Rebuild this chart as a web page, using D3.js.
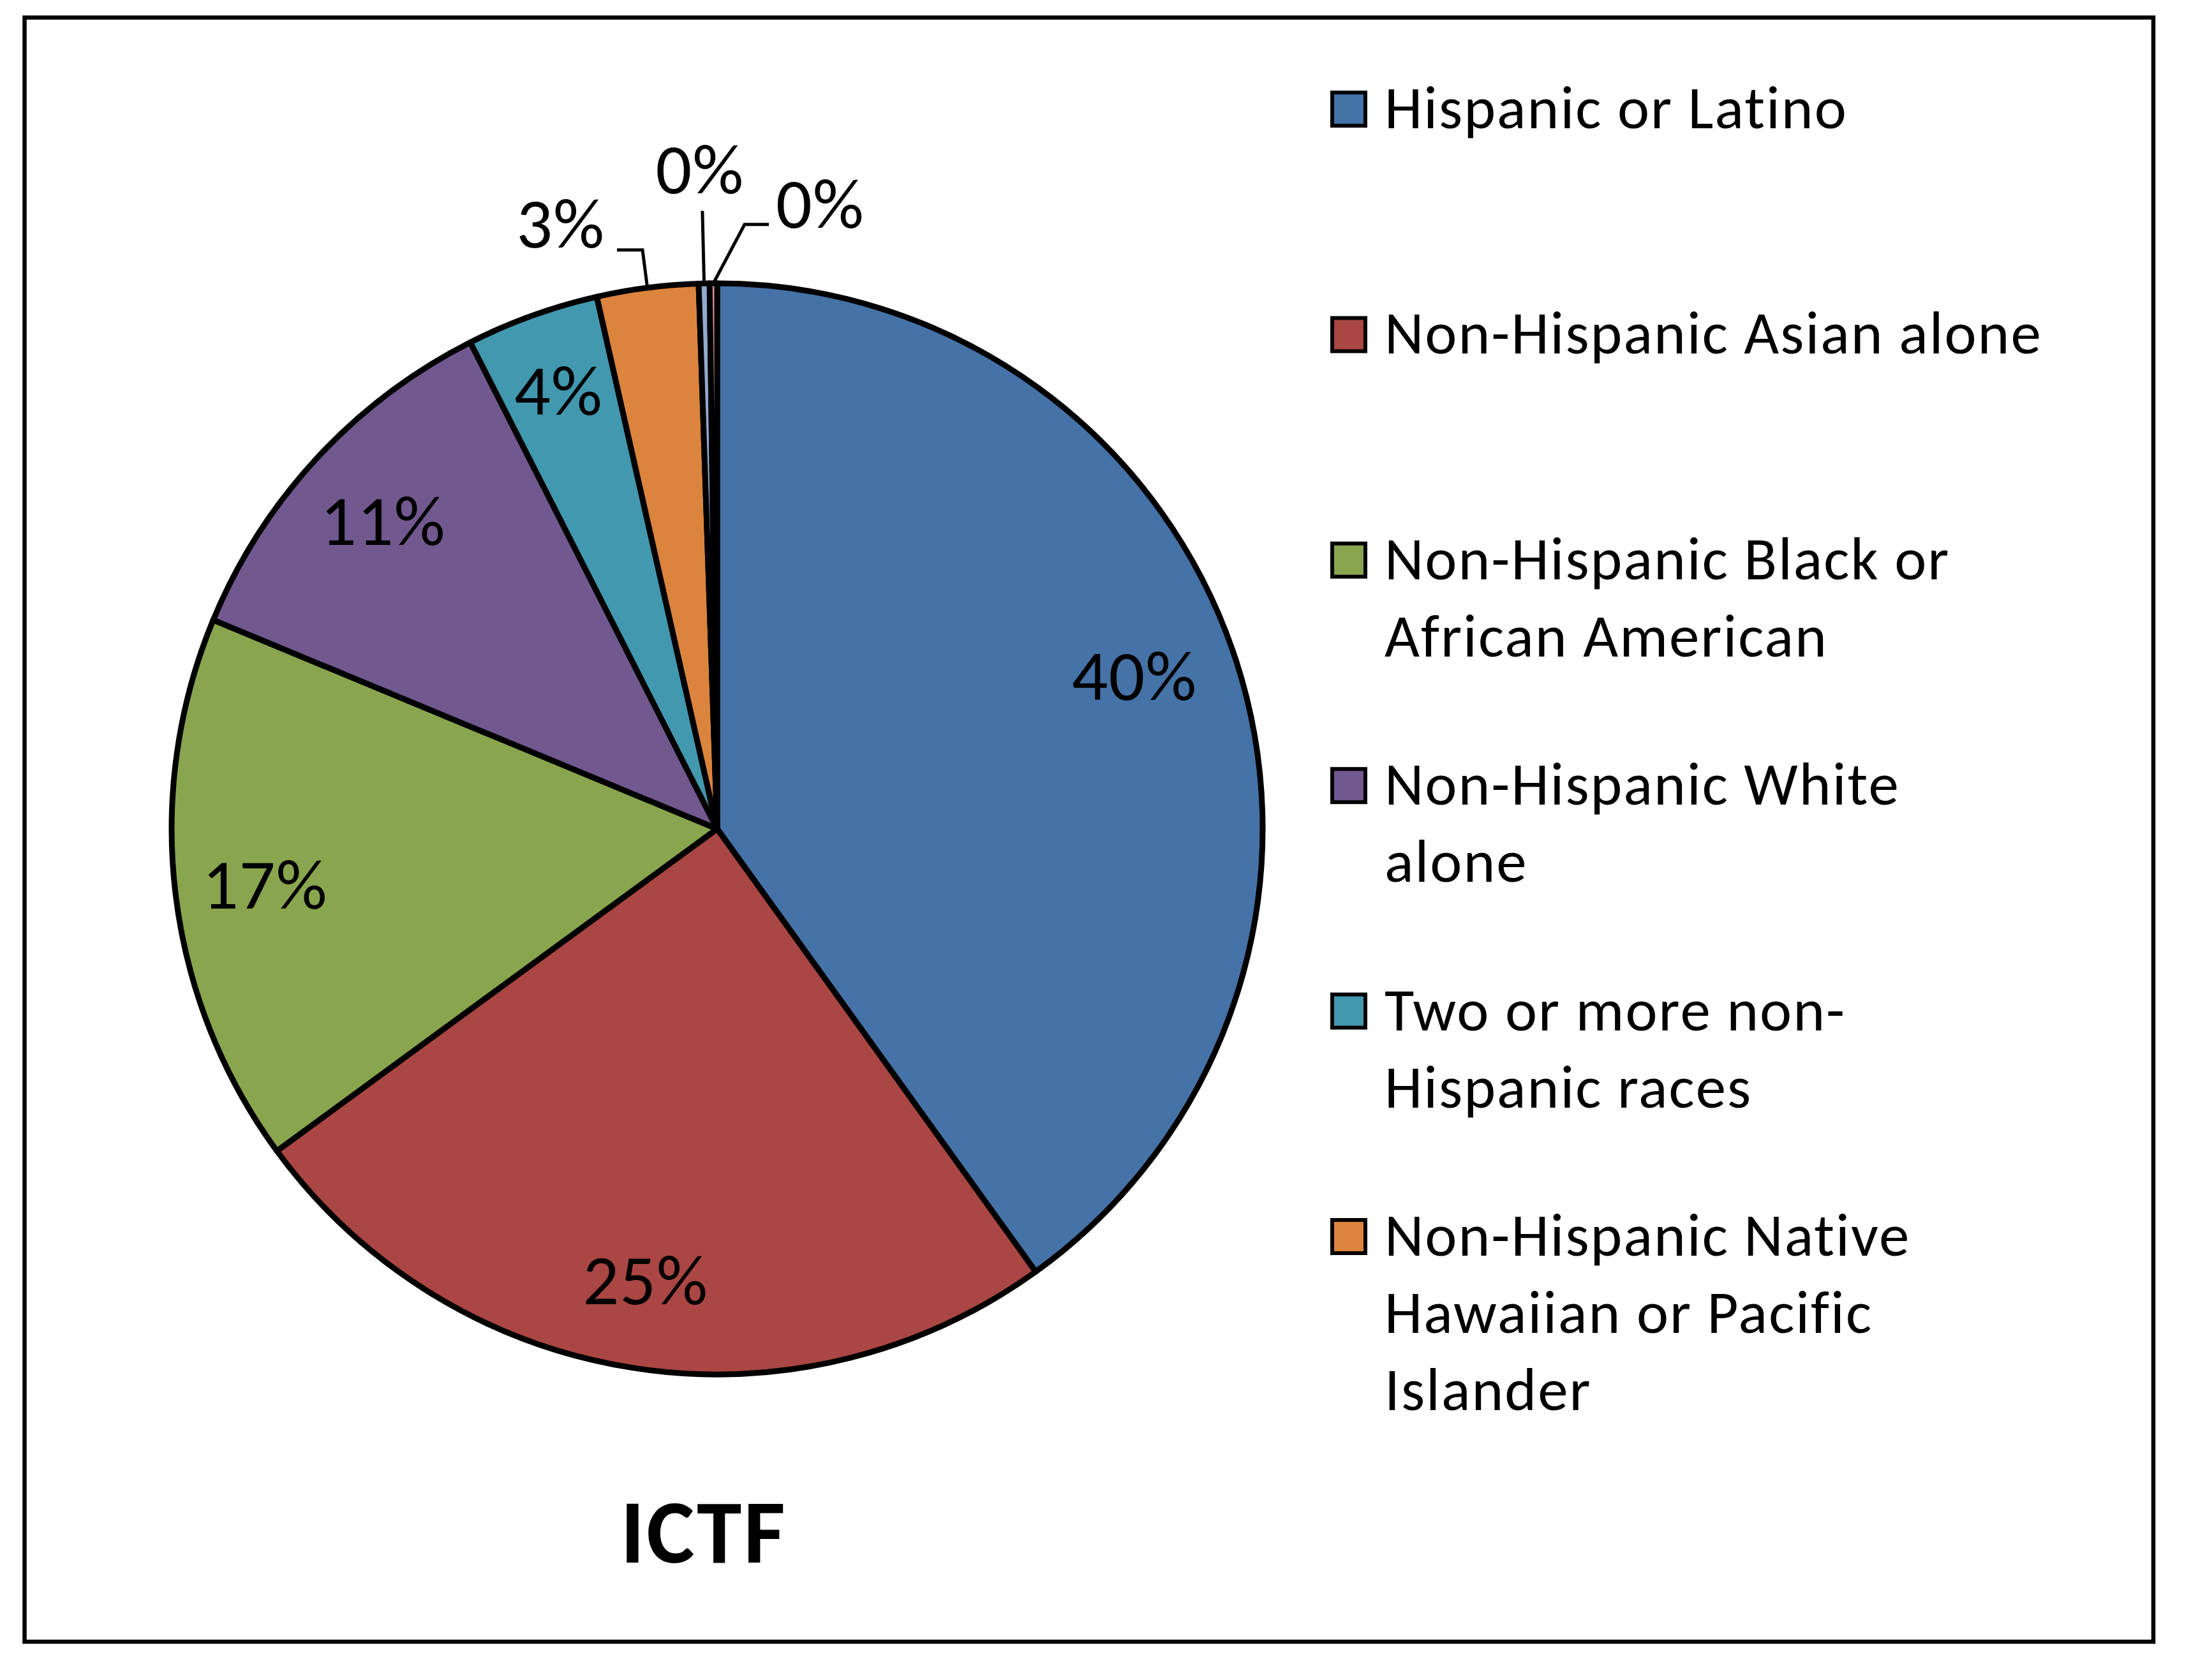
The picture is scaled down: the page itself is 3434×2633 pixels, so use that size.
<!DOCTYPE html>
<html>
<head>
<meta charset="utf-8">
<script src="https://cdn.jsdelivr.net/npm/d3@7"></script>
<style>
  html, body { margin: 0; padding: 0; background: #fff; }
  svg { display: block; }
  text { font-family: Carlito, Calibri, Lato, sans-serif; fill: #000; }
</style>
</head>
<body>
<div id="chart"></div>
<script>
// Ethnic makeup, ICTF (in percent)
const categories = [
  'Hispanic or Latino',
  'Non-Hispanic Asian alone',
  'Non-Hispanic Black or African American',
  'Non-Hispanic White alone',
  'Two or more non-Hispanic races',
  'Non-Hispanic Native Hawaiian or Pacific Islander',
  'Non-Hispanic American Indian and Alaska Native alone',
  'Non-Hispanic some other race alone'
];
const values = [40.06, 24.86, 16.3, 11.27, 3.93, 3.0, 0.32, 0.22];
const pctLabels = ['40%', '25%', '17%', '11%', '4%', '3%', '0%', '0%'];
const colors = ['#4572A7', '#AA4643', '#89A54E', '#71588F', '#4198AF', '#DB843D', '#93A9CF', '#D19392'];

// legend shows the first six entries, wrapped as in the original
const legendLines = [
  ['Hispanic or Latino'],
  ['Non-Hispanic Asian alone'],
  ['Non-Hispanic Black or', 'African American'],
  ['Non-Hispanic White', 'alone'],
  ['Two or more non-', 'Hispanic races'],
  ['Non-Hispanic Native', 'Hawaiian or Pacific', 'Islander']
];
const chartTitle = 'ICTF';

const W = 3434, H = 2633;
const cx = 1124, cy = 1299, R = 855;

const svg = d3.select('#chart')
  .append('svg')
  .attr('width', W)
  .attr('height', H);

svg.append('rect')
  .attr('width', W).attr('height', H)
  .attr('fill', '#fff');

// outer frame
svg.append('rect')
  .attr('x', 38.5).attr('y', 27.5)
  .attr('width', 3375 - 38.5).attr('height', 2573 - 27.5)
  .attr('fill', 'none')
  .attr('stroke', '#000')
  .attr('stroke-width', 6.5);

const data = categories.map((c, i) => ({ name: c, value: values[i], label: pctLabels[i], color: colors[i], idx: i }));

const pie = d3.pie().sort(null).value(d => d.value);
const arcs = pie(data);

const arc = d3.arc().innerRadius(0).outerRadius(R);

const g = svg.append('g').attr('transform', `translate(${cx},${cy})`);

g.selectAll('path.slice')
  .data(arcs)
  .join('path')
  .attr('class', 'slice')
  .attr('d', arc)
  .attr('fill', d => d.data.color)
  .attr('stroke', '#000')
  .attr('stroke-width', 9)
  .attr('stroke-linejoin', 'round');

const pctSize = 112;
const polar = (ang, rad) => [rad * Math.sin(ang), -rad * Math.cos(ang)];
const mid = d => (d.startAngle + d.endAngle) / 2;
const deg = Math.PI / 180;

// Excel "best fit" nudges a couple of the inside labels
const insideTweak = { 0: { r: 0.816, da: -2.5 }, 4: { r: 0.857, da: 0 } };

g.selectAll('text.inside')
  .data(arcs.filter(d => d.data.idx < 5))
  .join('text')
  .attr('class', 'inside')
  .each(function(d) {
    const tw = insideTweak[d.data.idx] || { r: 0.835, da: 0 };
    const p = polar(mid(d) + tw.da * deg, R * tw.r);
    d3.select(this).attr('x', p[0]).attr('y', p[1]);
  })
  .attr('dy', '0.36em')
  .attr('text-anchor', 'middle')
  .style('font-size', pctSize + 'px')
  .style('letter-spacing', '1px')
  .text(d => d.data.label);

// outside labels with leader lines (small slices at the top)
const leaderSpec = {
  5: { elbowAng: d => mid(d), elbowR: 1.07, run: -40, anchor: 'end', tx: -19, ty: -4 },
  6: { elbowAng: d => mid(d), elbowR: 1.133, run: 0, anchor: 'middle', tx: -4, ty: -28 },
  7: { elbowAng: d => 2.6 * deg, elbowR: 1.109, run: 38, anchor: 'start', tx: 11, ty: 5 }
};

arcs.filter(d => leaderSpec[d.data.idx]).forEach(d => {
  const s = leaderSpec[d.data.idx];
  const p0 = polar(mid(d), R);
  const p1 = polar(s.elbowAng(d), R * s.elbowR);
  const p2 = [p1[0] + s.run, p1[1]];
  g.append('path')
    .attr('d', d3.line()([p0, p1, p2]))
    .attr('fill', 'none')
    .attr('stroke', '#000')
    .attr('stroke-width', 5);
  g.append('text')
    .attr('x', p2[0] + s.tx)
    .attr('y', p2[1] + s.ty)
    .attr('text-anchor', s.anchor)
    .style('font-size', pctSize + 'px')
    .style('letter-spacing', '1px')
    .text(d.data.label);
});

// title
svg.append('text')
  .attr('x', 1103)
  .attr('y', 2449)
  .attr('text-anchor', 'middle')
  .style('font-size', '142px')
  .style('font-weight', 'bold')
  .style('letter-spacing', '3px')
  .text(chartTitle);

// legend
const legendX = 2088, textX = 2170, firstBase = 201, itemGap = 353.4, lineGap = 121;
const legend = svg.append('g').attr('class', 'legend');

legendLines.forEach((lines, i) => {
  const base = firstBase + i * itemGap;
  legend.append('rect')
    .attr('x', legendX).attr('y', base - 56)
    .attr('width', 52).attr('height', 52)
    .attr('fill', colors[i])
    .attr('stroke', '#000')
    .attr('stroke-width', 6);
  const t = legend.append('text')
    .attr('x', textX)
    .attr('y', base)
    .style('font-size', '95px')
    .style('letter-spacing', '2px');
  lines.forEach((ln, j) => {
    t.append('tspan')
      .attr('x', textX)
      .attr('y', base + j * lineGap)
      .text(ln);
  });
});
</script>
</body>
</html>
